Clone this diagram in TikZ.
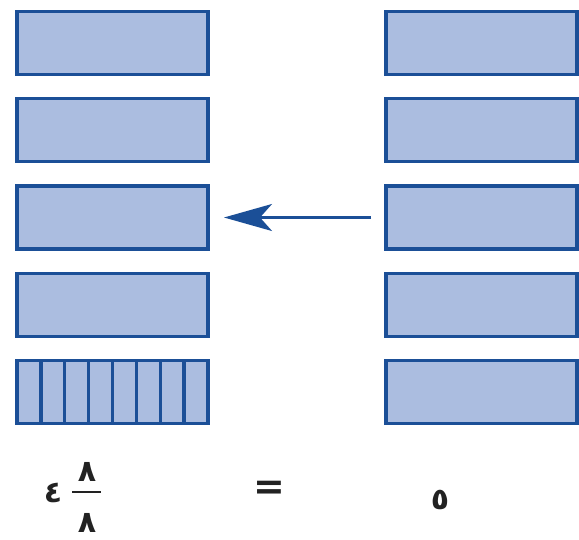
\documentclass[tikz,border=0pt]{standalone}
\usepackage{fontspec}
\newfontfamily\arabicfont[Script=Arabic,BoldFont={DejaVu Sans Bold}]{DejaVu Sans}
\usetikzlibrary{arrows.meta,calc}
\definecolor{barfill}{HTML}{ABBDE0}
\definecolor{barline}{HTML}{1B4F97}
\definecolor{txt}{HTML}{222222}
\tikzset{
  bar/.style={draw=barline, fill=barfill, line width=3.3pt, minimum width=191pt, minimum height=63pt, inner sep=0pt, outer sep=0pt},
  digit/.style={text=txt, font=\arabicfont\bfseries\fontsize{30}{34}\selectfont, inner sep=0pt},
  movearrow/.style={draw=barline, line width=2.2pt, -{Stealth[length=48pt, width=27pt, inset=12pt]}}
}
\begin{document}
\begin{tikzpicture}[x=1pt, y=-1pt]
\useasboundingbox[fill=white] (0,0) rectangle (579,540);
\foreach \i/\y in {1/43,2/130,3/217.5,4/305,5/392}{
  \node[bar] (L\i) at (112.5,\y) {};
  \node[bar] (R\i) at (481.5,\y) {};
}
\foreach \k in {1,...,7}{
  \draw[barline, line width=3.3pt] ($(L5.north west)!\k/8!(L5.north east)$) -- ($(L5.south west)!\k/8!(L5.south east)$);
}
\draw[movearrow, shorten <=15pt, shorten >=16pt] (R3.west) -- (L3.east);
% labels
\node[digit] (four) at (53,493) {٤};
\node[digit] (num) at (87,472) {٨};
\node[digit] (den) at (87,523) {٨};
\coordinate (barL) at (72,492);
\coordinate (barR) at (101,492);
\draw[txt, line width=2.5pt] (barL) -- (barR);
\node[text=txt, font=\arabicfont\bfseries\fontsize{38}{42}\selectfont, inner sep=0pt] (eq) at (269,490) {=};
\node[digit] (five) at (440,500) {٥};
\end{tikzpicture}
\end{document}
